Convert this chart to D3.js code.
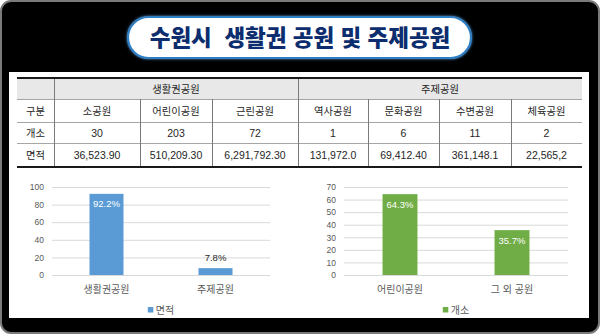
<!DOCTYPE html>
<html lang="ko">
<head>
<meta charset="utf-8">
<script src="https://cdn.jsdelivr.net/npm/d3@7"></script>
<style>
  html, body { margin: 0; padding: 0; background: #ffffff; }
  svg { display: block; }
  .kr { font-family: "Noto Sans CJK KR", "Noto Sans", sans-serif; }
  .num { font-family: "Liberation Sans", Arial, sans-serif; }
  .title { white-space: pre; }
</style>
</head>
<body>
<svg id="chart" width="600" height="334"></svg>
<script>
// ---- data ----
const titleText = "수원시  생활권 공원 및 주제공원";

// table
const groupNames = ["생활권공원", "주제공원"];
const groupSpans = [3, 4];
const parkTypes = ["소공원", "어린이공원", "근린공원", "역사공원", "문화공원", "수변공원", "체육공원"];
const parkCounts = [30, 203, 72, 1, 6, 11, 2];
const parkAreas = ["36,523.90", "510,209.30", "6,291,792.30", "131,972.0", "69,412.40", "361,148.1", "22,565,2"];
const rowLabels = ["구분", "개소", "면적"];

// area share chart (%)
const areaCategories = ["생활권공원", "주제공원"];
const areaShares = [92.2, 7.8];
const areaTicks = [0, 20, 40, 60, 80, 100];
const areaLegend = "면적";

// count share chart (%)
const countCategories = ["어린이공원", "그 외 공원"];
const countShares = [64.3, 35.7];
const countTicks = [0, 10, 20, 30, 40, 50, 60, 70];
const countLegend = "개소";

// ---- drawing ----
const svg = d3.select("#chart");

// dark frame and white panel
svg.append("rect").attr("x", 1).attr("y", 1).attr("width", 598).attr("height", 332)
  .attr("rx", 10).attr("fill", "#000").attr("stroke", "#7a7a7a").attr("stroke-width", 2);
svg.append("rect").attr("x", 9).attr("y", 72).attr("width", 580).attr("height", 246)
  .attr("fill", "#fff");

// title pill
const defs = svg.append("defs");
const glow = defs.append("filter").attr("id", "glow").attr("x", "-10%").attr("y", "-40%")
  .attr("width", "120%").attr("height", "180%");
glow.append("feGaussianBlur").attr("in", "SourceGraphic").attr("stdDeviation", 1.6).attr("result", "b");
const fm = glow.append("feMerge");
fm.append("feMergeNode").attr("in", "b");
fm.append("feMergeNode").attr("in", "SourceGraphic");

svg.append("rect").attr("x", 128).attr("y", 17).attr("width", 343).attr("height", 41)
  .attr("rx", 20.5).attr("fill", "#fff").attr("stroke", "#2f7fc4").attr("stroke-width", 2.2)
  .attr("filter", "url(#glow)");
svg.append("text").attr("class", "kr title").attr("x", 300).attr("y", 45.5)
  .attr("xml:space", "preserve")
  .attr("text-anchor", "middle").attr("font-size", 22.5).attr("font-weight", 900)
  .attr("fill", "#0c2d6e").text(titleText);

// ---- table ----
const colEdges = [17, 54, 140, 212, 298, 368, 439, 511, 582];
const rowEdges = [78, 99, 122, 143, 167];
const tbl = svg.append("g");
const textCol = "#262626";

tbl.append("rect").attr("x", colEdges[0]).attr("y", rowEdges[0])
  .attr("width", colEdges[8] - colEdges[0]).attr("height", rowEdges[1] - rowEdges[0])
  .attr("fill", "#e8e8e8");

// horizontal rules
[1, 2, 3].forEach(i => {
  tbl.append("line").attr("x1", colEdges[0]).attr("x2", colEdges[8])
    .attr("y1", rowEdges[i] + 0.5).attr("y2", rowEdges[i] + 0.5)
    .attr("stroke", "#a6a6a6").attr("stroke-width", 1);
});
// vertical rules: full height for group boundaries, lower rows for columns
colEdges.slice(1, 8).forEach((x, i) => {
  const full = (i === 0 || i === 3);
  tbl.append("line").attr("x1", x + 0.5).attr("x2", x + 0.5)
    .attr("y1", full ? rowEdges[0] : rowEdges[1]).attr("y2", rowEdges[4])
    .attr("stroke", "#7a7a7a").attr("stroke-width", 1);
});
// heavy top and bottom rules
[rowEdges[0], rowEdges[4]].forEach(y => {
  tbl.append("line").attr("x1", colEdges[0]).attr("x2", colEdges[8])
    .attr("y1", y).attr("y2", y).attr("stroke", "#1a1a1a").attr("stroke-width", 2);
});

const rowMid = i => (rowEdges[i] + rowEdges[i + 1]) / 2 + 4;
const colMid = i => (colEdges[i] + colEdges[i + 1]) / 2;

// group header row
let c = 1;
groupNames.forEach((g, i) => {
  const x = (colEdges[c] + colEdges[c + groupSpans[i]]) / 2;
  tbl.append("text").attr("class", "kr").attr("x", x).attr("y", rowMid(0))
    .attr("text-anchor", "middle").attr("font-size", 10.3).attr("fill", textCol).text(g);
  c += groupSpans[i];
});
// row labels
rowLabels.forEach((r, i) => {
  tbl.append("text").attr("class", "kr").attr("x", colMid(0)).attr("y", rowMid(i + 1))
    .attr("text-anchor", "middle").attr("font-size", 10.3).attr("fill", textCol).text(r);
});
parkTypes.forEach((p, i) => {
  tbl.append("text").attr("class", "kr").attr("x", colMid(i + 1)).attr("y", rowMid(1))
    .attr("text-anchor", "middle").attr("font-size", 10.3).attr("fill", textCol).text(p);
  tbl.append("text").attr("class", "num").attr("x", colMid(i + 1)).attr("y", rowMid(2))
    .attr("text-anchor", "middle").attr("font-size", 10.5).attr("fill", textCol).text(parkCounts[i]);
  tbl.append("text").attr("class", "num").attr("x", colMid(i + 1)).attr("y", rowMid(3))
    .attr("text-anchor", "middle").attr("font-size", 10.5).attr("fill", textCol).text(parkAreas[i]);
});

// ---- bar charts ----
function barChart(opt) {
  const g = svg.append("g");
  const y = d3.scaleLinear().domain([0, opt.max]).range([275, 187]);
  const x = d3.scaleBand().domain(opt.categories).range([opt.x0, opt.x1])
    .paddingInner(opt.pad).paddingOuter(opt.pad / 2);

  // gridlines
  const axis = d3.axisLeft(y).tickValues(opt.ticks).tickSize(-(opt.x1 - opt.x0)).tickPadding(8);
  const ag = g.append("g").attr("transform", `translate(${opt.x0},0)`).call(axis);
  ag.select(".domain").remove();
  ag.selectAll(".tick line").attr("stroke", "#d9d9d9");
  ag.selectAll(".tick text").attr("class", "num").attr("font-size", 8.5).attr("fill", "#595959");

  // bars
  g.selectAll("rect.bar").data(opt.values).join("rect").attr("class", "bar")
    .attr("x", (d, i) => x(opt.categories[i]))
    .attr("y", d => y(d))
    .attr("width", x.bandwidth())
    .attr("height", d => y(0) - y(d))
    .attr("fill", opt.color);

  // value labels
  g.selectAll("text.val").data(opt.values).join("text").attr("class", "val num")
    .attr("x", (d, i) => x(opt.categories[i]) + x.bandwidth() / 2)
    .attr("y", d => (y(0) - y(d) > 20) ? y(d) + 13.5 : y(d) - 7)
    .attr("text-anchor", "middle").attr("font-size", 9.5)
    .attr("fill", d => (y(0) - y(d) > 20) ? "#ffffff" : "#262626")
    .text(d => d.toFixed(1) + "%");

  // category labels
  g.selectAll("text.cat").data(opt.categories).join("text").attr("class", "cat kr")
    .attr("x", d => x(d) + x.bandwidth() / 2).attr("y", 293)
    .attr("text-anchor", "middle").attr("font-size", 10).attr("fill", "#595959")
    .text(d => d);

  // legend
  const lx = (opt.x0 + opt.x1) / 2;
  const lg = g.append("g");
  const lt = lg.append("text").attr("class", "kr").attr("x", lx + 4).attr("y", 313.5)
    .attr("text-anchor", "middle").attr("font-size", 10).attr("fill", "#595959").text(opt.legend);
  const w = lt.node().getComputedTextLength();
  lg.append("rect").attr("x", lx + 4 - w / 2 - 8).attr("y", 307).attr("width", 5.5).attr("height", 5.5)
    .attr("fill", opt.color);
}

barChart({
  categories: areaCategories, values: areaShares, ticks: areaTicks, max: 100,
  x0: 52, x1: 270, pad: 0.688, color: "#5b9bd5", legend: areaLegend
});
barChart({
  categories: countCategories, values: countShares, ticks: countTicks, max: 70,
  x0: 344, x1: 568, pad: 0.688, color: "#70ad47", legend: countLegend
});
</script>
</body>
</html>
